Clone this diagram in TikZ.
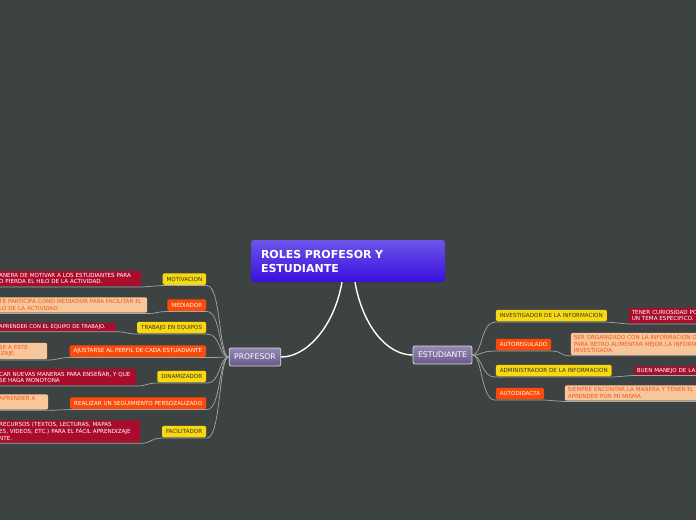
\documentclass[tikz,border=0pt]{standalone}
\usepackage{fontspec}
\setmainfont{DejaVu Sans}
\usetikzlibrary{arrows.meta, positioning}
\definecolor{mmbg}{HTML}{3D4242}
\definecolor{mmyellow}{HTML}{F8D90F}
\definecolor{mmorange}{HTML}{FC4A08}
\definecolor{mmred}{HTML}{AA0C2C}
\definecolor{mmpeach}{HTML}{F7C79B}
\definecolor{mmpeachtxt}{HTML}{F2561A}
\definecolor{mmline}{HTML}{A3A7A7}
\definecolor{mmviolet}{HTML}{7C69A3}
\definecolor{mmtop}{HTML}{6B55E8}
\definecolor{mmbottom}{HTML}{3A0EDF}
\tikzset{
  rootnode/.style={rounded corners=3pt,top color=mmtop,bottom color=mmbottom,text=white,font=\bfseries\fontsize{11}{14}\selectfont,text width=174pt,align=left,inner xsep=10pt,minimum height=42pt},
  mainnode/.style={rounded corners=2pt,draw=white!85!black,line width=0.8pt,top color=mmviolet!80!white,bottom color=mmviolet!85!black,text=white,font=\fontsize{7.7}{8}\selectfont,minimum height=18pt,inner xsep=5pt},
  tagnode/.style={rounded corners=1.5pt,font=\fontsize{5.6}{6.5}\selectfont,minimum height=11.5pt,inner xsep=4pt,inner ysep=1pt,outer sep=0.8pt},
  yelnode/.style={tagnode,fill=mmyellow,text=black!80},
  orgnode/.style={tagnode,fill=mmorange,text=white},
  notenode/.style={rounded corners=2pt,font=\fontsize{5.6}{6.7}\selectfont,align=left,inner xsep=3pt,inner ysep=2.2pt,outer sep=0.8pt},
  rednote/.style={notenode,fill=mmred,text=white},
  peachnote/.style={notenode,fill=mmpeach,text=mmpeachtxt},
  mainedge/.style={white,line width=1.4pt},
  subedge/.style={mmline,line width=0.7pt},
}

\begin{document}
\begin{tikzpicture}[x=1pt,y=-1pt]
  \useasboundingbox (0,0) rectangle (696,520);
  \fill[mmbg] (0,0) rectangle (696,520);

  \node[rootnode] (nRoles) at (348,261) {ROLES PROFESOR Y\\ESTUDIANTE};
  \node[mainnode] (nProfesor) at (255,357) {PROFESOR};
  \node[mainnode] (nEstudiante) at (442.5,355) {ESTUDIANTE};

  % profesor side
  \node[yelnode,anchor=east] (nMotivacion) at (207,279) {MOTIVACION};
  \node[orgnode,anchor=east] (nMediador) at (207,305) {MEDIADOR};
  \node[yelnode,anchor=east] (nTrabajo) at (207,327.5) {TRABAJO EN EQUIPOS};
  \node[orgnode,anchor=east] (nAjustarse) at (207,351) {AJUSTARSE AL PERFIL DE CADA ESTUADIANTE};
  \node[yelnode,anchor=east] (nDinamizador) at (207,376.5) {DINAMIZADOR};
  \node[orgnode,anchor=east] (nRealizar) at (207,403) {REALIZAR UN SEGUIMIENTO PERSOZALIZADO};
  \node[yelnode,anchor=east] (nFacilitador) at (207,431.5) {FACILITADOR};

  \node[rednote,anchor=east,text width=139pt] (nMotivacionTxt) at (142,278.5) {ANERA DE MOTIVAR A LOS ESTUDIANTES PARA\\O PIERDA EL HILO DE LA ACTIVIDAD.};
  \node[peachnote,anchor=east,text width=145pt] (nMediadorTxt) at (148,305) {TE PARTICIPA COMO MEDIADOR PARA FACILITAR EL\\LO DE LA ACTIVIDAD.};
  \node[rednote,anchor=east,text width=114pt,inner ysep=1.5pt,font=\fontsize{5.2}{6.5}\selectfont] (nTrabajoTxt) at (117,327) {APRENDER CON EL EQUIPO DE TRABAJO.};
  \node[peachnote,anchor=east,text width=45pt] (nAjustarseTxt) at (48,351) {SE A ESTE\\IZAJE.};
  \node[rednote,anchor=east,text width=134pt] (nDinamizadorTxt) at (137,377) {CAR NUEVAS MANERAS PARA ENSEÑAR, Y QUE\\SE HAGA MONOTONA};
  \node[peachnote,anchor=east,text width=46pt] (nRealizarTxt) at (49,402) {APRENDER A\\~};
  \node[rednote,anchor=east,text width=138pt] (nFacilitadorTxt) at (141,431.5) {RECURSOS (TEXTOS, LECTURAS, MAPAS\\ES, VIDEOS, ETC.) PARA EL FÁCIL APRENDIZAJE\\NTE.};

  % estudiante side
  \node[yelnode,anchor=west] (nInvestigador) at (495,315.5) {INVESTIGADOR DE LA INFORMACION};
  \node[orgnode,anchor=west] (nAutoregulado) at (495,344.5) {AUTOREGULADO};
  \node[yelnode,anchor=west] (nAdministrador) at (495,370.5) {ADMINISTRADOR DE LA INFORMACION};
  \node[orgnode,anchor=west] (nAutodidacta) at (495,393.5) {AUTODIDACTA};

  \node[rednote,anchor=west,text width=90pt] (nInvestigadorTxt) at (628,315.5) {TENER CURIOSIDAD PO\\UN TEMA ESPECIFICO.};
  \node[peachnote,anchor=west,text width=140pt] (nAutoreguladoTxt) at (570,344) {SER ORGANIZADO CON LA INFORMACION O\\PARA RETRO ALIMENTAR MEJOR LA INFORM\\INVESTIGADA.};
  \node[rednote,anchor=west,text width=90pt,inner ysep=1.5pt] (nAdministradorTxt) at (633,370.5) {BUEN MANEJO DE LA};
  \node[peachnote,anchor=west,text width=140pt] (nAutodidactaTxt) at (564,393) {SIEMPRE ENCONTAR LA MANERA Y TENER EL\\APRENDER POR MI MISMA};

  \draw[mainedge] ([xshift=-6pt]nRoles.south) .. controls +(-8,45) and +(25,0) .. (nProfesor.east);
  \draw[mainedge] ([xshift=7pt]nRoles.south) .. controls +(8,45) and +(-25,0) .. (nEstudiante.west);

  \foreach \n in {Motivacion,Mediador,Trabajo,Ajustarse,Dinamizador,Realizar,Facilitador}
    \draw[subedge] (nProfesor.west) .. controls +(-10,0) and +(14,0) .. (n\n.south east) -- (n\n.south west)
      .. controls +(-10,0) and +(10,0) .. (n\n Txt.south east) -- (n\n Txt.south west);
  \foreach \n in {Investigador,Autoregulado,Administrador,Autodidacta}
    \draw[subedge] (nEstudiante.east) .. controls +(10,0) and +(-14,0) .. (n\n.south west) -- (n\n.south east)
      .. controls +(10,0) and +(-10,0) .. (n\n Txt.south west) -- (n\n Txt.south east);
\end{tikzpicture}
\end{document}
